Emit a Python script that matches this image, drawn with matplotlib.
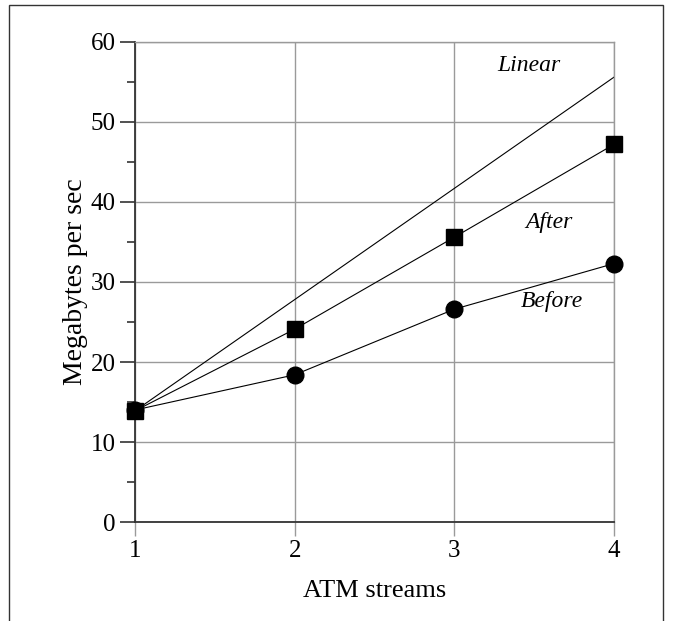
import matplotlib
matplotlib.use("Agg")
import matplotlib.pyplot as plt
from matplotlib.patches import Rectangle

streams = [1, 2, 3, 4]
before = [14.0, 18.4, 26.6, 32.3]
after = [13.9, 24.1, 35.6, 47.2]
linear = [13.9 * s for s in streams]

plt.rcParams['font.family'] = ['Liberation Serif', 'DejaVu Serif']

fig = plt.figure(figsize=(6.73, 6.21), dpi=100)
ax = fig.add_axes([0.2006, 0.1594, 0.7117, 0.773])

# border round the figure
fig.patches.append(Rectangle((0.0134, -0.05), 0.9718, 1.042, transform=fig.transFigure,
                             fill=False, edgecolor='#333333', linewidth=1.0))

ax.plot(streams, linear, color='black', lw=0.8, clip_on=False)
ax.plot(streams, after, color='black', lw=0.8, marker='s', markersize=12, clip_on=False, zorder=4)
ax.plot(streams, before, color='black', lw=0.8, marker='o', markersize=12, clip_on=False, zorder=4)

ax.text(3.47, 57.1, 'Linear', style='italic', fontsize=17, ha='center', va='center')
ax.text(3.59, 37.4, 'After', style='italic', fontsize=17, ha='center', va='center')
ax.text(3.61, 27.5, 'Before', style='italic', fontsize=17, ha='center', va='center')

ax.set_xlim(1, 4)
ax.set_ylim(0, 60)
ax.set_xticks(streams)
ax.set_yticks(range(0, 61, 10))
ax.set_yticks(range(5, 60, 10), minor=True)
ax.grid(True, which='major', color='#9a9a9a', lw=1.0)
ax.set_axisbelow(True)

for side in ['top', 'right']:
    ax.spines[side].set_color('#9a9a9a')
    ax.spines[side].set_linewidth(1.0)
for side in ['left', 'bottom']:
    ax.spines[side].set_color('#333333')
    ax.spines[side].set_linewidth(1.3)

ax.tick_params(axis='y', which='major', length=11, width=1.2, color='#333333', labelsize=18, pad=3)
ax.tick_params(axis='y', which='minor', length=6, width=1.2, color='#333333')
ax.tick_params(axis='x', which='major', length=10, width=1.0, color='#9a9a9a', labelsize=18, pad=3)

ax.set_xlabel('ATM streams', fontsize=19, labelpad=13)
ax.set_ylabel('Megabytes per sec', fontsize=20, labelpad=2)

fig.savefig('out.png', dpi=100)
